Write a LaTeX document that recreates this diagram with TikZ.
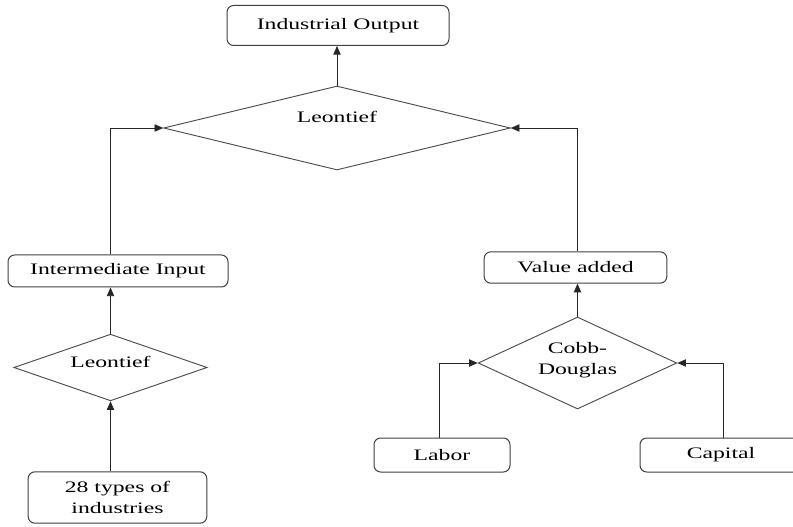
\documentclass[tikz,border=0pt]{standalone}
\usepackage{fontspec}
\setmainfont{Liberation Serif}[FakeStretch=1.48]
\usetikzlibrary{positioning,shapes.geometric,arrows.meta}
\tikzset{>={Triangle[length=6.5pt,width=5.5pt]}}
\tikzset{
  box/.style={draw=black!75,line width=0.75pt,rounded corners=5pt,align=center,
    inner sep=0pt,font=\fontsize{12}{15.5}\selectfont},
  dia/.style={draw=black!70,line width=0.7pt,diamond,inner sep=0pt,
    font=\fontsize{12}{15.5}\selectfont,align=center},
  link/.style={->,draw=black!85,line width=0.65pt}
}

\begin{document}
\begin{tikzpicture}[x=0.75pt,y=-0.75pt]
\clip (0,0) rectangle (793,527);
\fill[white] (0,0) rectangle (793,527);
% boxes
\node[box,minimum width=166.5pt,minimum height=30pt] (out) at (338,25.5) {Industrial Output};
\node[box,minimum width=165pt,minimum height=24pt] (mid) at (118,271) {Intermediate Input};
\node[box,minimum width=134pt,minimum height=38.5pt] (ind) at (117.5,497.5) {28 types of\\industries};
\node[box,minimum width=137pt,minimum height=23.5pt] (va) at (575.5,267.5) {Value added};
\node[box,minimum width=102pt,minimum height=25.5pt] (lab) at (442,455) {Labor};
\node[box,minimum width=121.5pt,minimum height=25.5pt] (cap) at (721,455) {Capital};
% diamonds
\node[dia,minimum width=260pt,minimum height=63pt,
  label={[yshift=8pt,font=\fontsize{12}{15.5}\selectfont]center:Leontief}] (lt) at (337,128) {};
\node[dia,minimum width=145pt,minimum height=50pt,
  label={[yshift=4pt,font=\fontsize{12}{15.5}\selectfont]center:Leontief}] (sl) at (110.5,367.5) {};
\node[dia,minimum width=149pt,minimum height=69pt,
  label={[yshift=2pt,font=\fontsize{12}{15.5}\selectfont,align=center]center:Cobb-\\Douglas}] (cd) at (577.5,363) {};
% connectors
\draw[link] (lt.north) -- (lt.north |- out.south);
\draw[link] (mid.north -| sl.north) |- (lt.west);
\draw[link] (va.north -| cd.north) |- (lt.east);
\draw[link] (sl.north) -- (sl.north |- mid.south);
\draw[link] (ind.north -| sl.south) -- (sl.south);
\draw[link] (cd.north) -- (cd.north |- va.south);
\draw[link] (lab.north -| 439,0) |- (cd.west);
\draw[link] (cap.north -| 723,0) |- (cd.east);
\end{tikzpicture}
\end{document}
